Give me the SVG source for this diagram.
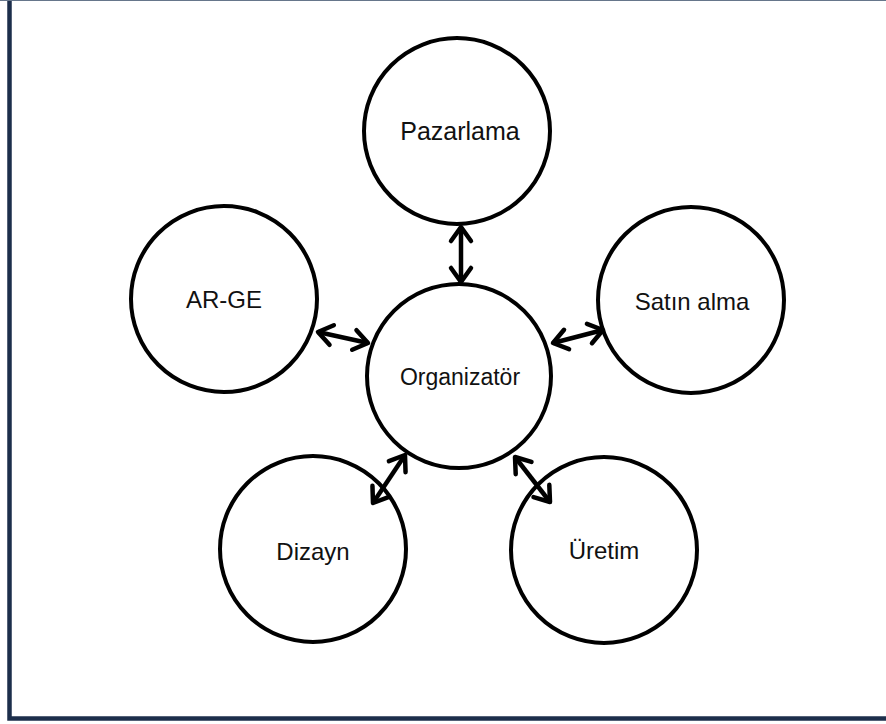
<svg xmlns="http://www.w3.org/2000/svg" width="886" height="724" viewBox="0 0 886 724">
  <defs>
    <marker id="head" viewBox="-20 -15 30 30" refX="0" refY="0" markerWidth="30" markerHeight="30" markerUnits="userSpaceOnUse" orient="auto-start-reverse" overflow="visible">
      <path d="M -14,-10 L 0,0 L -14,10" fill="none" stroke="#000" stroke-width="4.5" stroke-linecap="round" stroke-linejoin="round"/>
    </marker>
    <style>
      .node circle { fill: #fff; stroke: #000; stroke-width: 4; }
      .node text { font-family: "Liberation Sans", Arial, sans-serif; font-size: 24px; fill: #111; text-anchor: middle; dominant-baseline: central; }
      .conn line { stroke: #000; stroke-width: 4.5; marker-start: url(#head); marker-end: url(#head); }
    </style>
  </defs>
  <rect x="0" y="0" width="886" height="724" fill="#fff"/>
  <rect x="9.5" y="-10" width="900" height="728.5" fill="none" stroke="#1c2e4b" stroke-width="4.5"/>
  <line x1="0" y1="0.5" x2="886" y2="0.5" stroke="#66768b" stroke-width="1"/>

  <g id="pazarlama" class="node">
    <circle cx="457" cy="131" r="93"/>
    <text x="460" y="131" style="font-size:25px">Pazarlama</text>
  </g>
  <g id="organizator" class="node">
    <circle cx="459" cy="376" r="92"/>
    <text x="460" y="377" style="font-size:23px">Organizatör</text>
  </g>
  <g id="ar-ge" class="node">
    <circle cx="224" cy="299" r="93"/>
    <text x="224" y="299">AR-GE</text>
  </g>
  <g id="satin-alma" class="node">
    <circle cx="691" cy="300" r="93"/>
    <text x="692" y="301">Satın alma</text>
  </g>
  <g id="dizayn" class="node">
    <circle cx="313" cy="549" r="93"/>
    <text x="313" y="551">Dizayn</text>
  </g>
  <g id="uretim" class="node">
    <circle cx="604" cy="550" r="93"/>
    <text x="604" y="550">Üretim</text>
  </g>

  <g id="connectors" class="conn">
    <line x1="461" y1="227" x2="461" y2="282"/>
    <line x1="318" y1="332" x2="368" y2="343"/>
    <line x1="553" y1="343" x2="603" y2="330"/>
    <line x1="405" y1="455" x2="373" y2="503"/>
    <line x1="515" y1="457" x2="550" y2="502"/>
  </g>
</svg>
